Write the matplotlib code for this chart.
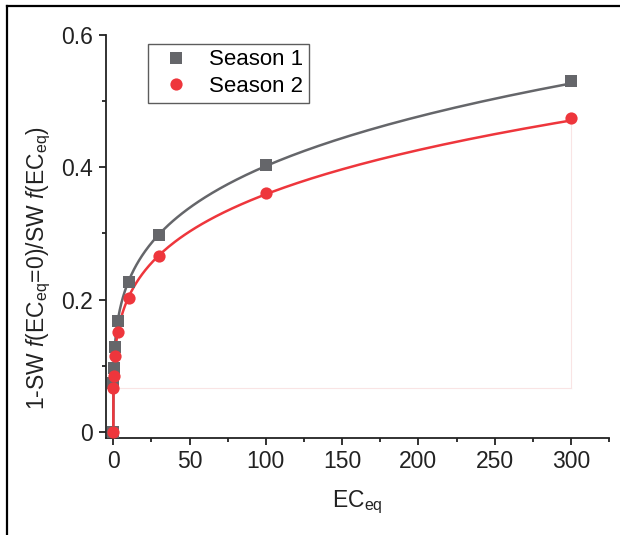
import numpy as np
import matplotlib
matplotlib.use("Agg")
import matplotlib.pyplot as plt
from matplotlib.lines import Line2D
from matplotlib.ticker import MultipleLocator, FuncFormatter

plt.rcParams['font.family'] = ['Liberation Sans', 'DejaVu Sans']
plt.rcParams['mathtext.fontset'] = 'custom'
plt.rcParams['mathtext.rm'] = 'Liberation Sans'
plt.rcParams['mathtext.it'] = 'Liberation Sans:italic'

# data
ec_eq = [0, 0.1, 0.3, 1, 3, 10, 30, 100, 300]
season1 = [0, 0.074, 0.097, 0.128, 0.168, 0.227, 0.298, 0.404, 0.530]
season2 = [0, 0.067, 0.085, 0.115, 0.151, 0.203, 0.266, 0.361, 0.474]

gray = '#65666a'
red = '#ee363c'


def power_fit(x, y):
    # fit y = a * x^b on the positive points (log-log least squares)
    x = np.asarray(x, float)
    y = np.asarray(y, float)
    m = x > 0
    b, loga = np.polyfit(np.log(x[m]), np.log(y[m]), 1)
    return np.exp(loga), b


fig = plt.figure(figsize=(6.2, 5.35), dpi=100)
ax = fig.add_axes([0.1705, 0.1819, 0.8118, 0.7527])

xs = np.concatenate([[0], np.geomspace(1e-7, 300, 600)])
for y, c in [(season1, gray), (season2, red)]:
    a, b = power_fit(ec_eq, y)
    ax.plot(xs, a * xs ** b, color=c, lw=1.8, zorder=2)

# faint drop lines
ax.plot([ec_eq[0], ec_eq[-1]], [season2[1], season2[1]], color='#f9e4e4', lw=0.8, zorder=1)
ax.plot([ec_eq[-1], ec_eq[-1]], [season2[1], season2[-1]], color='#f9e4e4', lw=0.8, zorder=1)

ax.plot(ec_eq, season1, 's', color=gray, ms=8.4, mew=0, label='Season 1', zorder=3)
ax.plot(ec_eq, season2, 'o', color=red, ms=8.8, mew=0, label='Season 2', zorder=4)

ax.set_xlim(-5, 325)
ax.set_ylim(-0.0086, 0.6)
ax.xaxis.set_major_locator(MultipleLocator(50))
ax.xaxis.set_minor_locator(MultipleLocator(25))
ax.yaxis.set_major_locator(MultipleLocator(0.2))
ax.yaxis.set_minor_locator(MultipleLocator(0.1))
ax.yaxis.set_major_formatter(FuncFormatter(lambda v, p: '0' if abs(v) < 1e-9 else f'{v:.1f}'))

for s in ['top', 'right']:
    ax.spines[s].set_visible(False)
for s in ['left', 'bottom']:
    ax.spines[s].set_linewidth(1.3)
    ax.spines[s].set_color('#222222')
ax.spines['left'].set_bounds(-0.0086, 0.6)

ax.tick_params(which='major', direction='out', length=5, width=1.3, labelsize=16.5,
               colors='#222222', pad=4)
ax.tick_params(which='minor', direction='out', length=3, width=1.3, colors='#222222')

ax.set_xlabel(r'EC$_{\mathregular{eq}}$', fontsize=16.5, color='#222222', labelpad=11)
ax.set_ylabel(r'1-SW $f$(EC$_{\mathregular{eq}}$=0)/SW $f$(EC$_{\mathregular{eq}}$)',
              fontsize=16.5, color='#222222')
ax.yaxis.set_label_coords(-0.105, 0.42)

leg = ax.legend(loc='upper left', bbox_to_anchor=(0.066, 1.0), fontsize=16,
                frameon=True, fancybox=False, edgecolor='#333333', handletextpad=0.5,
                borderpad=0.25, labelspacing=0.25, handlelength=2.0, borderaxespad=0.4)
leg.get_frame().set_linewidth(1.0)

# black frame lines at the top and left edge of the picture
fig.add_artist(Line2D([0.0108, 1.0], [0.9897, 0.9897], color='black', lw=1.6))
fig.add_artist(Line2D([0.0108, 0.0108], [0.0, 0.9897], color='black', lw=1.6))

fig.savefig('out.png', dpi=100)
